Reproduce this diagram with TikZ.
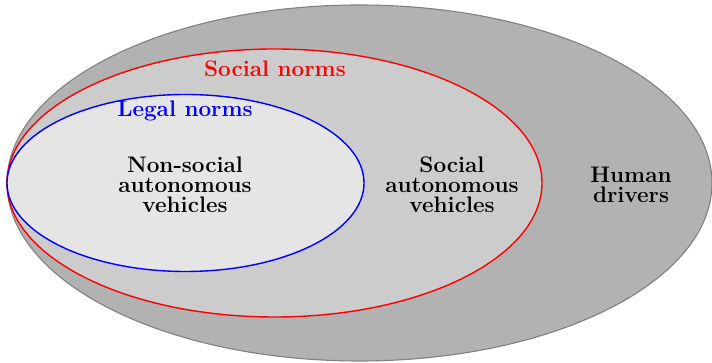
\documentclass[tikz,border=0pt]{standalone}
\begin{document}
\begin{tikzpicture}[x=1pt,y=1pt,
  lbl/.style={font=\fontsize{22.5}{20}\selectfont\bfseries, align=center, inner sep=0pt},
  setline/.style={line width=1.4pt}]
\useasboundingbox (0,0) rectangle (712,363);
\path[fill=black!30, draw=black!50, line width=1.1pt] (359.5,180) ellipse [x radius=352.5, y radius=178];
\path[fill=black!20, draw=red, setline] (274.5,180) ellipse [x radius=267.5, y radius=134];
\path[fill=black!10, draw=blue, setline] (185.5,180) ellipse [x radius=178.5, y radius=88.5];
\node[lbl, text=red] (social) at (275,294) {Social norms};
\node[lbl, text=blue] (legal) at (185,252) {Legal norms};
\node[lbl] (nonsocial) at (185,178) {Non-social\\autonomous\\vehicles};
\node[lbl] (socialav) at (452,178) {Social\\autonomous\\vehicles};
\node[lbl] (human) at (631,178) {Human\\drivers};
\end{tikzpicture}
\end{document}
